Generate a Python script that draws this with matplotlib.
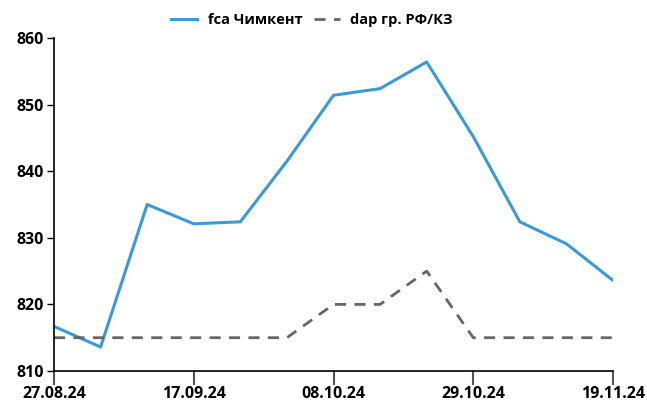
import matplotlib
matplotlib.use("Agg")
import matplotlib.pyplot as plt

dates = ["27.08.24", "03.09.24", "10.09.24", "17.09.24", "24.09.24", "01.10.24", "08.10.24",
         "15.10.24", "22.10.24", "29.10.24", "05.11.24", "12.11.24", "19.11.24"]
fca = [816.7, 813.6, 835.0, 832.1, 832.4, 841.5, 851.4, 852.4, 856.4, 845.2, 832.4, 829.1, 823.6]
dap = [815, 815, 815, 815, 815, 815, 820, 820, 825, 815, 815, 815, 815]
tick_idx = [0, 3, 6, 9, 12]
yticks = [810, 820, 830, 840, 850, 860]

plt.rcParams['font.family'] = ['Open Sans', 'DejaVu Sans']
fig = plt.figure(figsize=(6.47, 4.03), dpi=100)
ax = fig.add_axes([54/647, 1-371/403, (613-54)/647, (371-38)/403])
x = list(range(len(dates)))
ax.plot(x, fca, color="#3a9ad9", lw=2.2, label="fca Чимкент")
ax.plot(x, dap, color="#666666", lw=2.0, ls=(0, (4, 3)), label="dap гр. РФ/КЗ")
ax.set_xlim(0, len(dates)-1)
ax.set_ylim(810, 860)
ax.set_yticks(yticks)
ax.set_yticklabels([str(v) for v in yticks], fontweight="bold", fontsize=11.5)
ax.set_xticks(tick_idx)
ax.set_xticklabels([dates[i] for i in tick_idx], fontweight="bold", fontsize=11.5)
ax.tick_params(axis="y", length=5, width=1, color="black", pad=2)
ax.tick_params(axis="x", length=10, width=1.5, color="#555555", pad=1)
for s in ["top", "right"]:
    ax.spines[s].set_visible(False)
for s in ["left", "bottom"]:
    ax.spines[s].set_color("black")
    ax.spines[s].set_linewidth(1.2)
leg = ax.legend(loc="center", bbox_to_anchor=(312/647, 1-20/403), bbox_transform=fig.transFigure,
                ncol=2, frameon=False, prop={"weight": "bold", "size": 10.5},
                handlelength=1.8, handletextpad=0.7, columnspacing=0.8)
fig.savefig("out.png", dpi=100)
